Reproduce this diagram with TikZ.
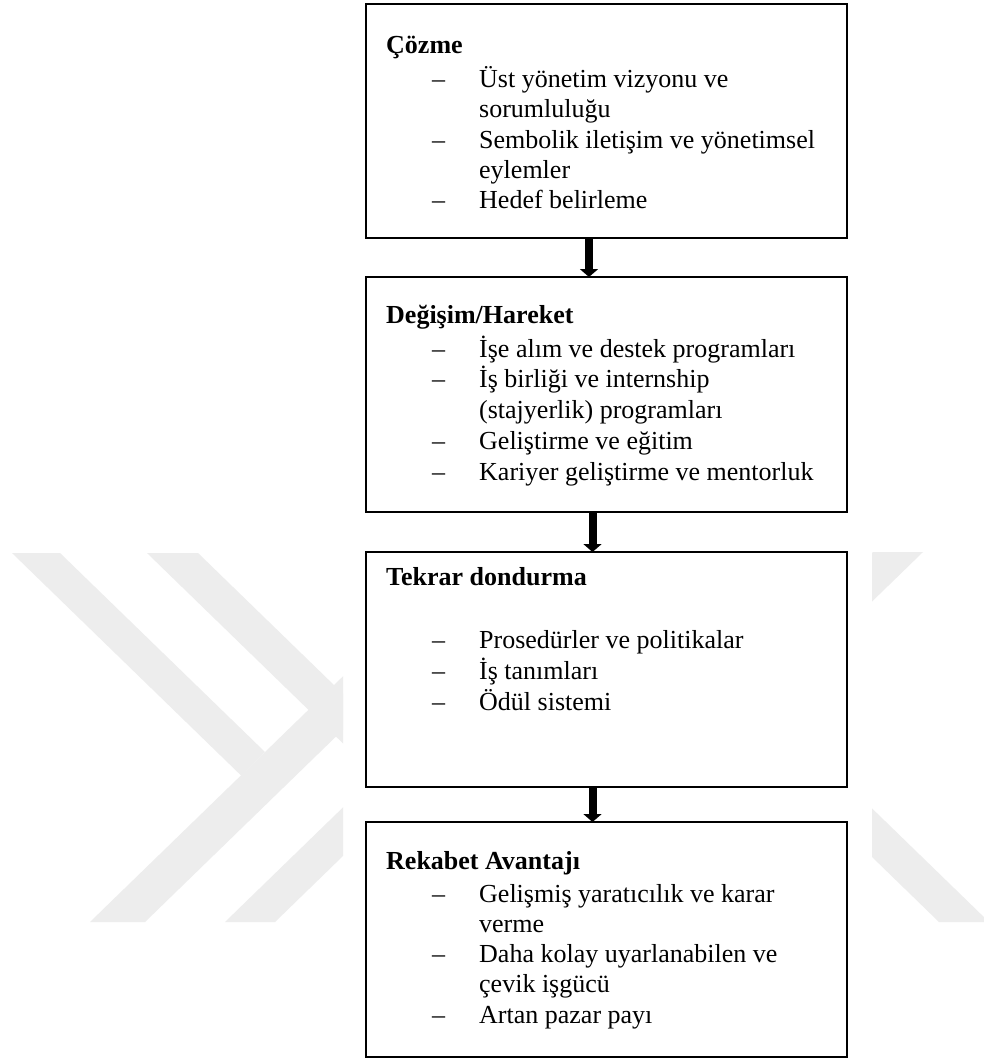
\documentclass[tikz,border=0pt]{standalone}
\usepackage{fontspec}
\setmainfont{Liberation Serif}
\usetikzlibrary{arrows.meta}
\definecolor{wmgray}{RGB}{237,237,237}
\begin{document}
\begin{tikzpicture}[x=1pt,y=-1pt,
  stage/.style={draw=black, line width=1.8pt, minimum width=481pt,
    minimum height=235pt, anchor=north west, inner sep=0pt, outer sep=0pt},
  heading/.style={anchor=base west, inner sep=0pt,
    font=\fontsize{26}{30}\selectfont\bfseries},
  dashmark/.style={anchor=base west, inner sep=0pt,
    font=\fontsize{26}{30}\selectfont},
  entry/.style={anchor=base west, inner sep=0pt,
    font=\fontsize{26}{30}\selectfont},
  flow/.style={line width=8pt, -{Triangle[width=18pt,length=8pt]}}
]
\useasboundingbox (0,0) rectangle (984,1061);
\fill[white] (0,0) rectangle (984,1061);

% background chevron mark, left part
\begin{scope}
  \clip (0,552) rectangle (343,922);
  \fill[wmgray] (12,553) -- (60,553) -- (265,752) -- (241,775.4) -- cycle;
  \fill[wmgray] (90,922) -- (145,922) -- (526,552) -- (471,552) -- cycle;
  \fill[wmgray] (147,553) -- (198,553) -- (579,923) -- (528,923) -- cycle;
  \fill[wmgray] (225,922) -- (275,922) -- (656,552) -- (606,552) -- cycle;
\end{scope}
% background chevron mark, right part
\begin{scope}
  \clip (872,552) rectangle (984,922);
  \fill[wmgray] (873,552) -- (923,552) -- (542,922) -- (492,922) -- cycle;
  \fill[wmgray] (939,922) -- (989,922) -- (608,552) -- (558,552) -- cycle;
\end{scope}

% stage boxes
\node[stage, minimum height=234pt] (b1) at (366,4) {};
\node[stage] (b2) at (366,277) {};
\node[stage] (b3) at (366,552) {};
\node[stage] (b4) at (366,822) {};

% stage 1
\node[heading] (h1) at (386,53) {Çözme};
\node[dashmark] (d1a) at (432,87) {–};
\node[entry] (e1a) at (479,87) {Üst yönetim vizyonu ve};
\node[entry] (e1b) at (479,117) {sorumluluğu};
\node[dashmark] (d1c) at (432,148) {–};
\node[entry] (e1c) at (479,148) {Sembolik iletişim ve yönetimsel};
\node[entry] (e1d) at (479,178) {eylemler};
\node[dashmark] (d1e) at (432,208) {–};
\node[entry] (e1e) at (479,208) {Hedef belirleme};

% stage 2
\node[heading] (h2) at (386,323) {Değişim/Hareket};
\node[dashmark] (d2a) at (432,357) {–};
\node[entry] (e2a) at (479,357) {İşe alım ve destek programları};
\node[dashmark] (d2b) at (432,387) {–};
\node[entry] (e2b) at (479,387) {İş birliği ve internship};
\node[entry] (e2c) at (479,418) {(stajyerlik) programları};
\node[dashmark] (d2d) at (432,449) {–};
\node[entry] (e2d) at (479,449) {Geliştirme ve eğitim};
\node[dashmark] (d2e) at (432,480) {–};
\node[entry] (e2e) at (479,480) {Kariyer geliştirme ve mentorluk};

% stage 3
\node[heading] (h3) at (386,585) {Tekrar dondurma};
\node[dashmark] (d3a) at (432,648) {–};
\node[entry] (e3a) at (479,648) {Prosedürler ve politikalar};
\node[dashmark] (d3b) at (432,679) {–};
\node[entry] (e3b) at (479,679) {İş tanımları};
\node[dashmark] (d3c) at (432,710) {–};
\node[entry] (e3c) at (479,710) {Ödül sistemi};

% stage 4
\node[heading] (h4) at (386,869) {Rekabet Avantajı};
\node[dashmark] (d4a) at (432,902) {–};
\node[entry] (e4a) at (479,902) {Gelişmiş yaratıcılık ve karar};
\node[entry] (e4b) at (479,932) {verme};
\node[dashmark] (d4c) at (432,962) {–};
\node[entry] (e4c) at (479,962) {Daha kolay uyarlanabilen ve};
\node[entry] (e4d) at (479,992) {çevik işgücü};
\node[dashmark] (d4e) at (432,1023) {–};
\node[entry] (e4e) at (479,1023) {Artan pazar payı};

% connectors
\draw[flow] ([xshift=-17.5pt]b1.south) -- ([xshift=-17.5pt]b2.north);
\draw[flow] ([xshift=-14pt]b2.south) -- ([xshift=-14pt]b3.north);
\draw[flow] ([xshift=-14pt]b3.south) -- ([xshift=-14pt]b4.north);
\end{tikzpicture}
\end{document}
